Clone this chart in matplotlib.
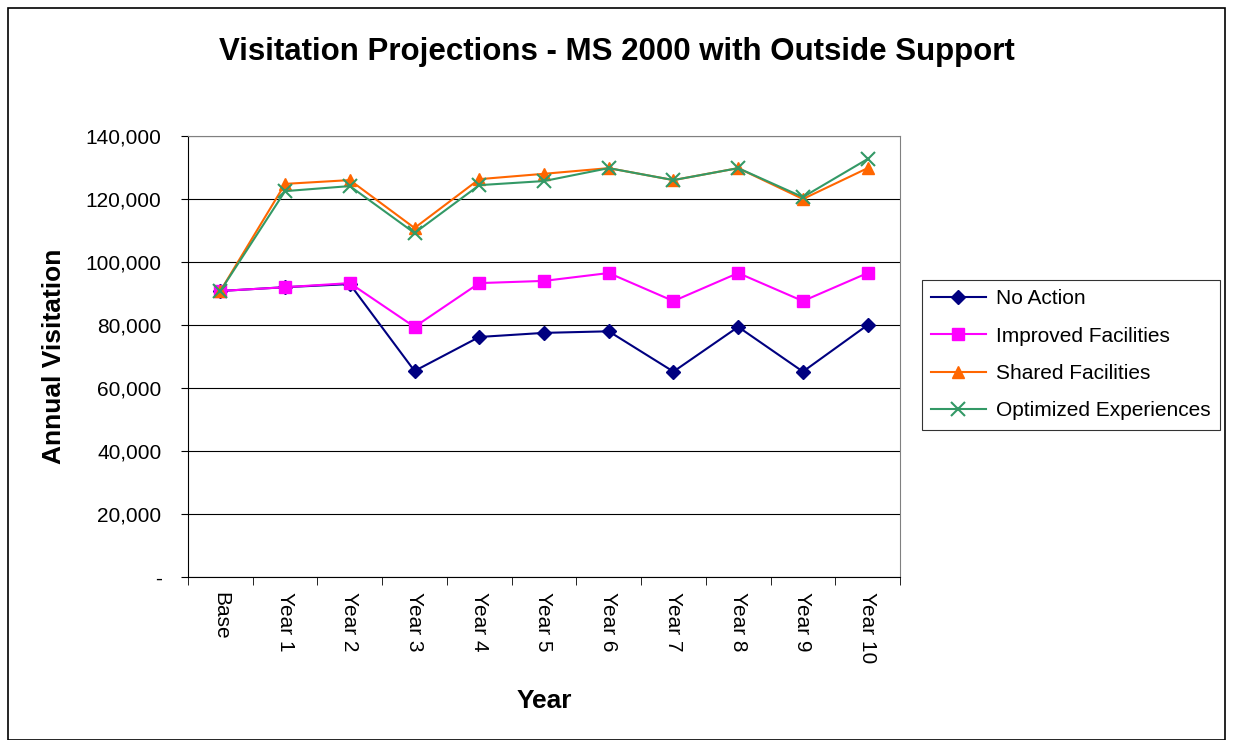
import matplotlib.pyplot as plt
import numpy as np
from matplotlib.patches import Rectangle
from matplotlib.ticker import FuncFormatter

plt.rcParams['font.family'] = ['Liberation Sans', 'DejaVu Sans']

years = ['Base', 'Year 1', 'Year 2', 'Year 3', 'Year 4', 'Year 5',
         'Year 6', 'Year 7', 'Year 8', 'Year 9', 'Year 10']

no_action = [90800, 92000, 93000, 65400, 76200, 77500, 78000, 65200, 79400, 65200, 80000]
improved = [90800, 92000, 93300, 79400, 93300, 94000, 96500, 87600, 96500, 87600, 96500]
shared = [90800, 124800, 126000, 110800, 126300, 128000, 129800, 126000, 129800, 120000, 129800]
optimized = [90800, 122500, 124100, 109200, 124400, 125700, 129800, 126000, 129800, 120600, 132700]

fig = plt.figure(figsize=(12.35, 7.4), dpi=100)
fig.patches.append(Rectangle((8 / 1235, 0), 1217 / 1235, 732 / 740, transform=fig.transFigure,
                             fill=False, edgecolor='black', linewidth=1.2))

ax = fig.add_axes([188 / 1235, 1 - 577 / 740, 712 / 1235, 441 / 740])
x = np.arange(len(years))

ax.plot(x, no_action, color='#000080', marker='D', markersize=7, linewidth=1.5, label='No Action')
ax.plot(x, improved, color='#FF00FF', marker='s', markersize=8, linewidth=1.5, label='Improved Facilities')
ax.plot(x, shared, color='#FF6600', marker='^', markersize=9, linewidth=1.5, label='Shared Facilities')
ax.plot(x, optimized, color='#339966', marker='x', markersize=10, markeredgewidth=1.5,
        linewidth=1.5, label='Optimized Experiences')

ax.set_xlim(-0.5, len(years) - 0.5)
ax.set_ylim(0, 140000)
ax.set_yticks(np.arange(0, 140001, 20000))
ax.yaxis.set_major_formatter(FuncFormatter(lambda v, p: '-' if v == 0 else f'{int(v):,}'))
ax.grid(axis='y', color='black', linewidth=0.8)
ax.set_axisbelow(True)

# category labels centred, tick marks between categories
ax.set_xticks(x)
ax.set_xticklabels(years, rotation=270, fontsize=15)
ax.tick_params(axis='x', length=0, pad=11)
ax.set_xticks(np.arange(-0.5, len(years)), minor=True)
ax.tick_params(axis='x', which='minor', length=6, direction='out', color='black')
ax.tick_params(axis='y', labelsize=15, length=5, pad=14, direction='out')

for s in ['top', 'right']:
    ax.spines[s].set_color('#808080')
for s in ['left', 'bottom']:
    ax.spines[s].set_color('black')

ax.set_xlabel('Year', fontsize=19, fontweight='bold', labelpad=18)
ax.set_ylabel('Annual Visitation', fontsize=19, fontweight='bold', labelpad=14)

fig.suptitle('Visitation Projections - MS 2000 with Outside Support', fontsize=22.5,
             fontweight='bold', x=617 / 1235, y=1 - 52 / 740, va='center')

leg = fig.legend(loc='upper left', bbox_to_anchor=(922 / 1235, 1 - 280 / 740),
                 fontsize=15, frameon=True, fancybox=False, edgecolor='black',
                 handlelength=2.6, handletextpad=0.5, borderpad=0.45, labelspacing=0.88,
                 borderaxespad=0)
leg.get_frame().set_linewidth(0.8)

fig.savefig('out.png', dpi=100)
